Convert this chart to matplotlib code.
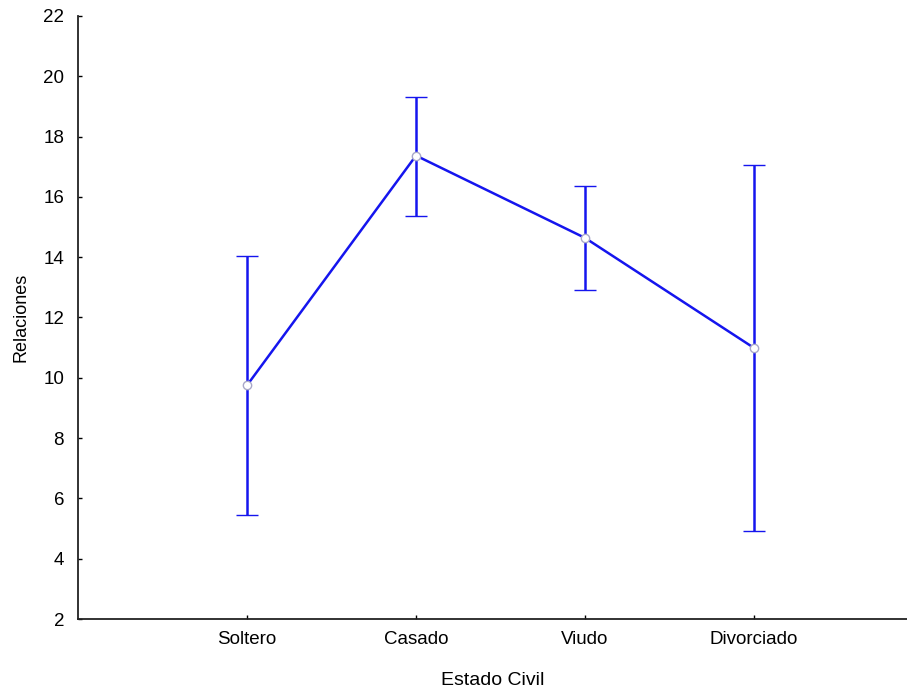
import matplotlib
matplotlib.use("Agg")
import matplotlib.pyplot as plt

categories = ["Soltero", "Casado", "Viudo", "Divorciado"]
means = [9.75, 17.37, 14.64, 10.99]
upper = [14.03, 19.33, 16.35, 17.07]
lower = [5.45, 15.38, 12.90, 4.92]

plt.rcParams['font.family'] = ['Liberation Sans', 'DejaVu Sans']

fig = plt.figure(figsize=(9.07, 6.93), dpi=100)
W, H = 907, 693
left, right, top, bottom = 78, 907, 16, 619
ax = fig.add_axes([left / W, (H - bottom) / H, (right - left) / W, (bottom - top) / H])

x = list(range(1, len(categories) + 1))
yerr = [[m - l for m, l in zip(means, lower)], [u - m for u, m in zip(upper, means)]]
ax.errorbar(x, means, yerr=yerr, color='#1515ee', lw=1.8, capsize=8, capthick=1.8,
            marker='o', ms=6, mfc='white', mec='#a8a8c8', mew=1.0, zorder=3)

ax.set_xlim(0, (right - left) / 169.0)
ax.set_ylim(2, 22)
ax.set_yticks(range(2, 23, 2))
ax.set_xticks(x)
ax.set_xticklabels(categories)
ax.tick_params(direction='in', length=3, width=1, labelsize=13.5, colors='black')
ax.tick_params(axis='x', pad=9)
ax.tick_params(axis='y', pad=10)
for s in ['top', 'right']:
    ax.spines[s].set_visible(False)
for s in ['left', 'bottom']:
    ax.spines[s].set_linewidth(1.3)
    ax.spines[s].set_color('#222222')
ax.set_ylabel('Relaciones', fontsize=13, labelpad=10)
ax.set_xlabel('Estado Civil', fontsize=14, labelpad=17)
fig.savefig('out.png', dpi=100)
